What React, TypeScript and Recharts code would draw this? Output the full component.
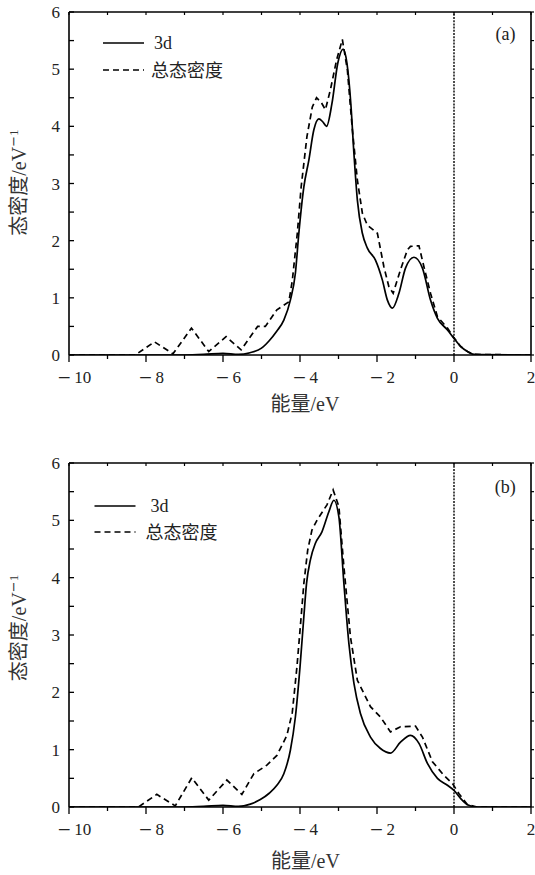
import React from 'react';
import { LineChart, Line, XAxis, YAxis, ReferenceLine } from 'recharts';

// ---------- axis ticks ----------
const energyTicks = [-10, -9, -8, -7, -6, -5, -4, -3, -2, -1, 0, 1, 2];
const dosTicks = [0, 0.5, 1, 1.5, 2, 2.5, 3, 3.5, 4, 4.5, 5, 5.5, 6];
const energyDomain = [-10, 2];
const dosDomain = [0, 6];

// ---------- panel (a) ----------
const energyA3d = [-10, -7, -6.5, -6.0, -5.6, -5.3, -5.0, -4.8, -4.6, -4.42, -4.25, -4.12, -4.03, -3.9, -3.77, -3.64, -3.51, -3.41, -3.31, -3.17, -3.02, -2.88, -2.78, -2.68, -2.6, -2.51, -2.38, -2.25, -2.04, -1.86, -1.73, -1.6, -1.43, -1.26, -1.04, -0.82, -0.61, -0.43, -0.17, 0, 0.17, 0.35, 0.52, 2];
const dosA3d = [0, 0, 0.01, 0.03, 0.01, 0.04, 0.12, 0.25, 0.42, 0.61, 0.96, 1.43, 2.13, 2.94, 3.41, 3.94, 4.13, 4.08, 4.0, 4.4, 5.1, 5.35, 5.1, 4.4, 3.53, 2.71, 2.13, 1.87, 1.66, 1.31, 0.96, 0.82, 1.08, 1.52, 1.71, 1.52, 0.96, 0.64, 0.44, 0.29, 0.15, 0.06, 0.01, 0];

const energyATotal = [-10, -8.28, -7.78, -7.3, -6.82, -6.37, -5.92, -5.53, -5.1, -4.9, -4.6, -4.29, -4.2, -4.07, -3.97, -3.82, -3.68, -3.57, -3.45, -3.34, -3.21, -3.05, -2.9, -2.77, -2.64, -2.51, -2.38, -2.25, -1.99, -1.82, -1.69, -1.58, -1.39, -1.21, -1.13, -0.91, -0.78, -0.61, -0.43, -0.17, 0, 0.17, 0.35, 0.52, 2];
const dosATotal = [0, 0, 0.23, 0.02, 0.47, 0.06, 0.32, 0.09, 0.5, 0.5, 0.79, 0.93, 1.3, 2.13, 2.94, 3.82, 4.34, 4.5, 4.42, 4.29, 4.64, 5.16, 5.52, 4.99, 3.94, 3.06, 2.48, 2.27, 2.13, 1.54, 1.19, 1.08, 1.49, 1.84, 1.9, 1.91, 1.54, 1.08, 0.67, 0.47, 0.3, 0.15, 0.06, 0.01, 0];

// ---------- panel (b) ----------
const energyB3d = [-10, -7, -6.5, -6.0, -5.6, -5.29, -5.03, -4.8, -4.6, -4.42, -4.25, -4.12, -4.0, -3.9, -3.83, -3.73, -3.6, -3.43, -3.25, -3.12, -2.99, -2.86, -2.73, -2.6, -2.43, -2.17, -1.91, -1.65, -1.39, -1.13, -0.91, -0.69, -0.43, -0.17, 0, 0.17, 0.35, 0.6, 2];
const dosB3d = [0, 0, 0.01, 0.03, 0.01, 0.05, 0.13, 0.24, 0.38, 0.58, 0.99, 1.57, 2.44, 3.32, 3.9, 4.31, 4.6, 4.8, 5.15, 5.35, 5.06, 3.9, 2.85, 2.16, 1.63, 1.22, 1.02, 0.94, 1.13, 1.25, 1.11, 0.76, 0.5, 0.38, 0.29, 0.15, 0.04, 0, 0];

const energyBTotal = [-10, -8.2, -7.72, -7.24, -6.81, -6.37, -5.9, -5.51, -5.2, -4.86, -4.6, -4.45, -4.34, -4.2, -4.08, -3.97, -3.9, -3.8, -3.69, -3.56, -3.3, -3.14, -2.99, -2.86, -2.69, -2.51, -2.17, -1.91, -1.65, -1.39, -1.0, -0.82, -0.56, -0.26, -0.04, 0.13, 0.35, 0.6, 2];
const dosBTotal = [0, 0, 0.22, 0.02, 0.51, 0.12, 0.47, 0.22, 0.58, 0.73, 0.9, 1.1, 1.25, 1.65, 2.44, 3.32, 3.9, 4.48, 4.83, 5.0, 5.27, 5.53, 5.24, 4.19, 2.97, 2.21, 1.75, 1.57, 1.31, 1.4, 1.41, 1.22, 0.79, 0.55, 0.41, 0.23, 0.04, 0, 0];

const seriesNames = ['3d', '总态密度'];
const panelLabels = ['(a)', '(b)'];
const xTitle = '能量/eV';
const yTitle = '态密度/eV';

const toPoints = (es: number[], vs: number[]) => es.map((e, i) => ({ e, v: vs[i] }));

const SERIF = '"Liberation Serif", "Times New Roman", serif';
const MIXED = '"Liberation Serif", "Noto Sans CJK SC", sans-serif';
const TXT = '#222';

// ---------- layout ----------
const CHART_W = 535;
const Y_AXIS_W = 69;
const RIGHT_MARGIN = 4;
const panelA = { top: 0, height: 420, marginTop: 12, axisH: 65 };
const panelB = { top: 430, height: 445, marginTop: 33, axisH: 68 };
const frameStyle = { stroke: '#000', strokeWidth: 1.6 };

function BottomTick(props: any) {
  const { x, y, payload } = props;
  const v = payload.value as number;
  const major = v % 2 === 0;
  return (
    <g>
      <line x1={x} x2={x} y1={y} y2={y + (major ? 7 : 4)} stroke="#000" strokeWidth={1.3} />
      {major && (
        <text x={x + (v < 0 ? 5 : 0)} y={y + 28} textAnchor="middle" style={{ fontFamily: SERIF, fontSize: 17 }} fill={TXT}>
          {v < 0 ? (
            <>
              <tspan style={{ fontFamily: '"DejaVu Serif"' }}>−</tspan>
              <tspan dx={3}>{Math.abs(v)}</tspan>
            </>
          ) : (
            String(v)
          )}
        </text>
      )}
    </g>
  );
}

function LeftTick(props: any) {
  const { x, y, payload } = props;
  const v = payload.value as number;
  const major = Number.isInteger(v);
  return (
    <g>
      <line x1={x} x2={x + 5} y1={y} y2={y} stroke="#000" strokeWidth={1.3} />
      {major && (
        <text x={x - 9} y={y + 6} textAnchor="end" style={{ fontFamily: SERIF, fontSize: 17 }} fill={TXT}>
          {String(v)}
        </text>
      )}
    </g>
  );
}

function Panel(props: { solid: { e: number; v: number }[]; dashed: { e: number; v: number }[]; top: number; height: number; marginTop: number; axisH: number }) {
  const { solid, dashed, top, height, marginTop, axisH } = props;
  return (
    <div style={{ position: 'absolute', left: 0, top, width: CHART_W, height }}>
      <LineChart width={CHART_W} height={height} margin={{ top: marginTop, right: RIGHT_MARGIN, bottom: 0, left: 0 }}>
        <XAxis xAxisId={0} type="number" dataKey="e" domain={energyDomain} ticks={energyTicks} interval={0} allowDataOverflow height={axisH} tickSize={0} tickMargin={0} tickLine={false} axisLine={frameStyle} tick={(p: any) => <BottomTick {...p} />} />
        <YAxis yAxisId={0} type="number" domain={dosDomain} ticks={dosTicks} interval={0} allowDataOverflow width={Y_AXIS_W} tickSize={0} tickMargin={0} tickLine={false} axisLine={frameStyle} tick={(p: any) => <LeftTick {...p} />} />
        <ReferenceLine x={0} xAxisId={0} yAxisId={0} stroke="#000" strokeWidth={1.4} strokeDasharray="2 1.2" />
        <Line data={dashed} dataKey="v" xAxisId={0} yAxisId={0} type="linear" stroke="#000" strokeWidth={1.7} strokeDasharray="6 4" dot={false} activeDot={false} isAnimationActive={false} />
        <Line data={solid} dataKey="v" xAxisId={0} yAxisId={0} type="monotone" stroke="#000" strokeWidth={1.7} dot={false} activeDot={false} isAnimationActive={false} />
      </LineChart>
    </div>
  );
}

function frameBox(p: { top: number; height: number; marginTop: number; axisH: number }) {
  return { x: Y_AXIS_W, y: p.top + p.marginTop, w: CHART_W - RIGHT_MARGIN - Y_AXIS_W, h: p.height - p.marginTop - p.axisH };
}

// top and right borders of the plot box, with their small tick marks
function FrameTopRight(props: { p: { top: number; height: number; marginTop: number; axisH: number } }) {
  const b = frameBox(props.p);
  const xStep = b.w / (energyTicks.length - 1);
  const yStep = b.h / (dosTicks.length - 1);
  return (
    <g>
      <line x1={b.x} x2={b.x + b.w} y1={b.y} y2={b.y} {...frameStyle} />
      <line x1={b.x + b.w} x2={b.x + b.w} y1={b.y} y2={b.y + b.h} {...frameStyle} />
      {energyTicks.map((t, i) => (
        <line key={'t' + t} x1={b.x + i * xStep} x2={b.x + i * xStep} y1={b.y} y2={b.y + 3} stroke="#000" strokeWidth={1.2} />
      ))}
      {dosTicks.map((t, i) => (
        <line key={'r' + t} x1={b.x + b.w} x2={b.x + b.w + 3} y1={b.y + i * yStep} y2={b.y + i * yStep} stroke="#000" strokeWidth={1.2} />
      ))}
    </g>
  );
}

function Legend(props: { x1: number; x2: number; y1: number; y2: number; t1: number; t2: number }) {
  const { x1, x2, y1, y2, t1, t2 } = props;
  return (
    <g>
      <line x1={x1} x2={x2} y1={y1} y2={y1} stroke="#000" strokeWidth={1.6} />
      <text x={t1} y={y1 + 5.5} style={{ fontFamily: SERIF, fontSize: 18 }} fill={TXT}>{seriesNames[0]}</text>
      <line x1={x1} x2={x2} y1={y2} y2={y2} stroke="#000" strokeWidth={1.6} strokeDasharray="6 4" />
      <text x={t2} y={y2 + 7} style={{ fontFamily: MIXED, fontSize: 18 }} fill={TXT}>{seriesNames[1]}</text>
    </g>
  );
}

function YTitle(props: { x: number; y: number }) {
  return (
    <text transform={`translate(${props.x},${props.y}) rotate(-90)`} textAnchor="middle" style={{ fontFamily: MIXED, fontSize: 20 }} fill="#333">
      {yTitle}
      <tspan dy={-8} style={{ fontSize: 13, fontFamily: '"DejaVu Serif"' }}>−</tspan>
      <tspan style={{ fontSize: 13 }}>1</tspan>
    </text>
  );
}

export default function App() {
  const a3d = toPoints(energyA3d, dosA3d);
  const aTot = toPoints(energyATotal, dosATotal);
  const b3d = toPoints(energyB3d, dosB3d);
  const bTot = toPoints(energyBTotal, dosBTotal);
  return (
    <div style={{ position: 'absolute', left: 0, top: 0, width: CHART_W, height: 875, background: '#fff', overflow: 'hidden' }}>
      <Panel solid={a3d} dashed={aTot} {...panelA} />
      <Panel solid={b3d} dashed={bTot} {...panelB} />
      <svg width={CHART_W} height={875} style={{ position: 'absolute', left: 0, top: 0, pointerEvents: 'none' }}>
        <FrameTopRight p={panelA} />
        <FrameTopRight p={panelB} />
        <Legend x1={103} x2={144} y1={43} y2={70} t1={154} t2={151} />
        <Legend x1={94.5} x2={135.5} y1={506} y2={532} t1={150.5} t2={145.5} />
        <text x={505.5} y={39.5} textAnchor="middle" style={{ fontFamily: SERIF, fontSize: 18 }} fill={TXT}>{panelLabels[0]}</text>
        <text x={505.2} y={492.7} textAnchor="middle" style={{ fontFamily: SERIF, fontSize: 18 }} fill={TXT}>{panelLabels[1]}</text>
        <text x={305} y={411} textAnchor="middle" style={{ fontFamily: MIXED, fontSize: 20 }} fill="#333">{xTitle}</text>
        <text x={305.4} y={868} textAnchor="middle" style={{ fontFamily: MIXED, fontSize: 20 }} fill="#333">{xTitle}</text>
        <YTitle x={26} y={182.6} />
        <YTitle x={26} y={628} />
      </svg>
    </div>
  );
}
